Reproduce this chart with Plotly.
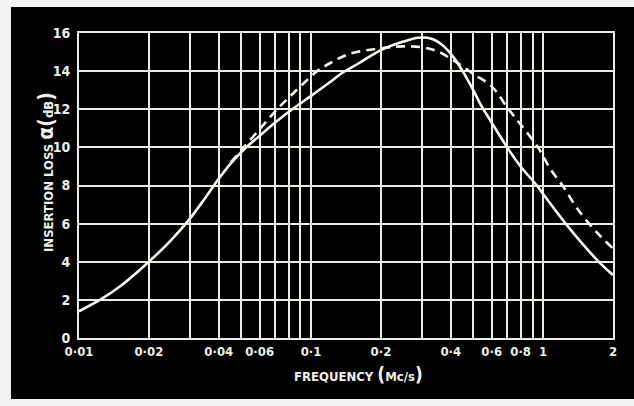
import numpy as np
import plotly.graph_objects as go

# solid curve
freq_solid = [0.01, 0.0125, 0.015, 0.02, 0.025, 0.03, 0.035, 0.04, 0.045, 0.052, 0.06, 0.07, 0.083,
              0.1, 0.12, 0.136, 0.16, 0.2, 0.25, 0.29, 0.33, 0.37, 0.41, 0.45, 0.5, 0.535,
              0.6, 0.7, 0.8, 0.94, 1.0, 1.25, 1.5, 1.72, 2.0]
loss_solid = [1.4, 2.05, 2.7, 4.0, 5.15, 6.25, 7.35, 8.35, 9.15, 9.95, 10.6, 11.3, 12.0,
              12.7, 13.4, 13.9, 14.4, 15.1, 15.55, 15.75, 15.7, 15.35, 14.75, 14.0, 13.0, 12.3,
              11.3, 10.0, 9.0, 8.0, 7.55, 6.0, 4.85, 4.05, 3.3]

# dashed curve
freq_dash = [0.045, 0.05, 0.06, 0.0708, 0.08, 0.09, 0.105, 0.12, 0.146, 0.2, 0.25, 0.3,
             0.35, 0.4, 0.45, 0.5, 0.6, 0.71, 0.8, 0.95, 1.076, 1.22, 1.41, 1.7, 2.0]
loss_dash = [9.2, 9.85, 10.95, 11.95, 12.6, 13.2, 13.95, 14.4, 14.9, 15.2, 15.3, 15.25,
             15.05, 14.65, 14.25, 13.85, 13.2, 12.0, 11.2, 10.0, 8.85, 7.95, 6.75, 5.55, 4.7]

# grid / tick positions
grid_freq = [0.01, 0.02, 0.03, 0.04, 0.05, 0.06, 0.07, 0.08, 0.09, 0.1,
             0.2, 0.3, 0.4, 0.5, 0.6, 0.7, 0.8, 0.9, 1, 2]
grid_text = ['0·01', '0·02', '', '0·04', '', '0·06', '', '', '', '0·1',
             '0·2', '', '0·4', '', '0·6', '', '0·8', '', '1', '2']
y_ticks = [0, 2, 4, 6, 8, 10, 12, 14, 16]

FONT = 'DejaVu Sans Condensed'
GRID = '#ecece6'
W, H = 634, 406
L, R, T, B = 79, 21, 33, 68
pw, ph = W - L - R, H - T - B

fig = go.Figure()
fig.add_trace(go.Scatter(x=freq_dash, y=loss_dash, mode='lines', line_shape='spline',
                         line=dict(color='#f4f4ee', width=2.6, dash='9px,6px')))
fig.add_trace(go.Scatter(x=freq_solid, y=loss_solid, mode='lines', line_shape='spline',
                         line=dict(color='#f8f8f2', width=2.6)))

# black card behind the chart, light margin around it
fig.add_shape(type='rect', xref='paper', yref='paper', layer='below',
              x0=(11 - L) / pw, x1=(W + 5 - L) / pw, y0=(H - B - 399) / ph, y1=(H - B - 7) / ph,
              fillcolor='black', line_width=0)

fig.add_annotation(x=(358 - L) / pw, y=(H - B - 374) / ph, xref='paper', yref='paper',
                   xanchor='center', yanchor='middle',
                   text='FREQUENCY <span style="font-size:19px">(</span>Mc/s<span style="font-size:19px">)</span>',
                   showarrow=False, font=dict(family=FONT, size=13, color='#f0f0ea', weight='bold'))
fig.add_annotation(x=(46 - L) / pw, y=(H - B - 172) / ph, xref='paper', yref='paper', textangle=-90,
                   xanchor='center', yanchor='middle',
                   text='INSERTION LOSS <span style="font-size:21px">α(</span>dB<span style="font-size:21px">)</span>',
                   showarrow=False, font=dict(family=FONT, size=13, color='#f0f0ea', weight='bold'))

fig.update_xaxes(type='log', range=[np.log10(0.01), np.log10(2)], tickvals=grid_freq, ticktext=grid_text,
                 showgrid=True, gridcolor=GRID, gridwidth=2, zeroline=False,
                 showline=True, mirror=True, linecolor=GRID, linewidth=2,
                 automargin=False, ticks='',
                 tickfont=dict(family=FONT, size=13, color='#f0f0ea', weight='bold'))
fig.update_yaxes(range=[0, 16], tickvals=y_ticks, showgrid=True, gridcolor=GRID, gridwidth=2,
                 zeroline=False, showline=True, mirror=True, linecolor=GRID, linewidth=2,
                 automargin=False, ticks='outside', ticklen=4,
                 tickcolor='black', tickfont=dict(family=FONT, size=14, color='#f0f0ea', weight='bold'))

fig.update_layout(width=W, height=H, margin=dict(l=L, r=R, t=T, b=B, pad=0),
                  paper_bgcolor='#f3f3f1', plot_bgcolor='black', showlegend=False)

fig.write_html('out.html', config={'displayModeBar': False},
               post_script="document.body.style.margin='0';")
